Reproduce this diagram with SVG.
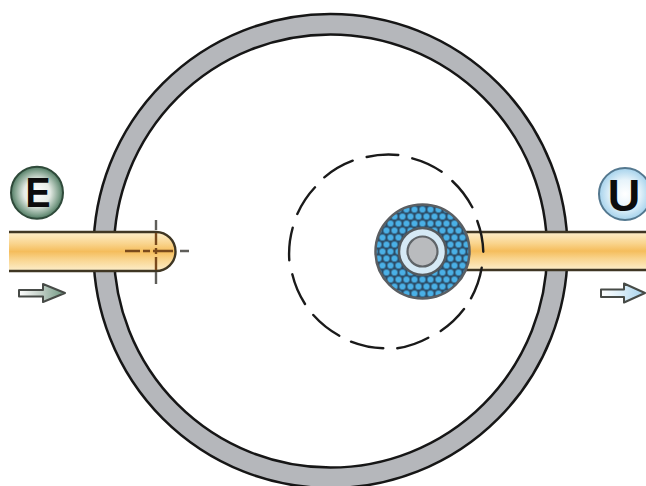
<svg xmlns="http://www.w3.org/2000/svg" width="646" height="486" viewBox="0 0 646 486">
<style>
.pipe{fill:url(#pipeG)}
.edge{stroke:#3f3623;stroke-width:2.400;fill:none}
.label{font-family:"Liberation Sans",Arial,sans-serif;font-weight:700;text-anchor:middle;fill:#0c0c0c}
.arrow{stroke:#474b47;stroke-width:2;stroke-linejoin:round}
.dash{stroke:#1a1a1a;stroke-width:2.400;fill:none;stroke-linecap:round}
.mark{stroke:#5f5e5a;stroke-width:2.400;fill:none}
.markin{stroke:#7a4a1c;stroke-width:2.400;fill:none}
</style>
<defs>
<linearGradient id="pipeG" x1="0" y1="0" x2="0" y2="1">
<stop offset="0" stop-color="#fdeecb"/><stop offset=".3" stop-color="#f9d48d"/><stop offset=".5" stop-color="#f5bd5c"/><stop offset=".7" stop-color="#f9d48d"/><stop offset="1" stop-color="#fdeecb"/>
</linearGradient>
<radialGradient id="eG"><stop offset="0" stop-color="#ffffff"/><stop offset=".5" stop-color="#e6ece6"/><stop offset=".85" stop-color="#7fa08c"/><stop offset="1" stop-color="#4f7a62"/></radialGradient>
<radialGradient id="uG"><stop offset="0" stop-color="#ffffff"/><stop offset=".55" stop-color="#e6f3fa"/><stop offset="1" stop-color="#a5d2ec"/></radialGradient>
<linearGradient id="aE"><stop offset="0" stop-color="#ffffff"/><stop offset=".45" stop-color="#c6d2ca"/><stop offset="1" stop-color="#6d9680"/></linearGradient>
<linearGradient id="aU"><stop offset="0" stop-color="#ffffff"/><stop offset=".45" stop-color="#dceef8"/><stop offset="1" stop-color="#a5d2ec"/></linearGradient>
<pattern id="hex" patternUnits="userSpaceOnUse" x="422.500" y="251.500" width="8" height="14">
<rect width="8" height="14" fill="#2c4c66"/>
<circle cx="0" cy="0" r="3.100" fill="#4ab0e6"/><circle cx="8" cy="0" r="3.100" fill="#4ab0e6"/>
<circle cx="0" cy="14" r="3.100" fill="#4ab0e6"/><circle cx="8" cy="14" r="3.100" fill="#4ab0e6"/>
<circle cx="4" cy="7" r="3.100" fill="#4ab0e6"/>
</pattern>
</defs>
<rect width="646" height="486" fill="#ffffff"/>
<g id="casing">
<circle cx="330.500" cy="251" r="226.800" fill="none" stroke="#161616" stroke-width="23"/>
<circle cx="330.500" cy="251" r="226.800" fill="none" stroke="#b5b7bb" stroke-width="18"/>
</g>
<g id="inlet">
<path class="pipe" d="M9 232H156A19.500 19.500 0 0 1 156 271H9Z"/>
<path class="edge" d="M9 232H156A19.500 19.500 0 0 1 156 271H9"/>
<path class="markin" d="M125 251H140M143 251H150M153 251H173M156 233V245M156 248V254M156 257V270"/>
<path class="mark" d="M156 220V230M156 272V284M180 251H189"/>
</g>
<g id="outlet">
<rect class="pipe" x="465" y="232" width="181" height="38"/>
<path class="edge" d="M465 232H646M465 270H646"/>
</g>
<g id="orbit">
<path class="dash" d="M366.700 157A97 97 0 0 1 398.300 155M412.300 158.300A97 97 0 0 1 441.700 171.700M452.300 181A97 97 0 0 1 472.300 207.300M477.300 221A97 97 0 0 1 483.300 251.700M481.700 267.700A97 97 0 0 1 471 298.300M464 309A97 97 0 0 1 440.700 331M428.300 337.700A97 97 0 0 1 397.300 348.300M383.300 348.300A97 97 0 0 1 351 341.700M339.300 335.700A97 97 0 0 1 313.300 315M305 304A97 97 0 0 1 292.300 274.300M289.300 260.300A97 97 0 0 1 292.700 227.700M297.300 214A97 97 0 0 1 315 187.300M324.300 177.300A97 97 0 0 1 352.700 160.700"/>
</g>
<g id="impeller">
<circle cx="422.500" cy="251.500" r="47" fill="url(#hex)" stroke="#5a5e62" stroke-width="2.500"/>
<circle cx="422.500" cy="251.500" r="23.500" fill="#d5e9f5" stroke="#54595d" stroke-width="2.500"/>
<circle cx="422.500" cy="251.500" r="15" fill="#b9bbbe" stroke="#5f6468" stroke-width="2.200"/>
</g>
<g id="badge-e">
<circle cx="37" cy="192.700" r="26" fill="url(#eG)" stroke="#2f4a3a" stroke-width="2"/>
<text class="label" x="38" y="207" font-size="43" textLength="25" lengthAdjust="spacingAndGlyphs">E</text>
</g>
<g id="badge-u">
<circle cx="625" cy="194" r="26" fill="url(#uG)" stroke="#54788f" stroke-width="2"/>
<text class="label" x="624" y="211" font-size="45">U</text>
</g>
<g id="connectors">
<path class="arrow" fill="url(#aE)" d="M19 290H43V284L65 293L43 302V296.500H19Z"/>
<path class="arrow" fill="url(#aU)" d="M601 289.500H624V283.500L645 293L624 302.500V297H601Z"/>
</g>
</svg>
